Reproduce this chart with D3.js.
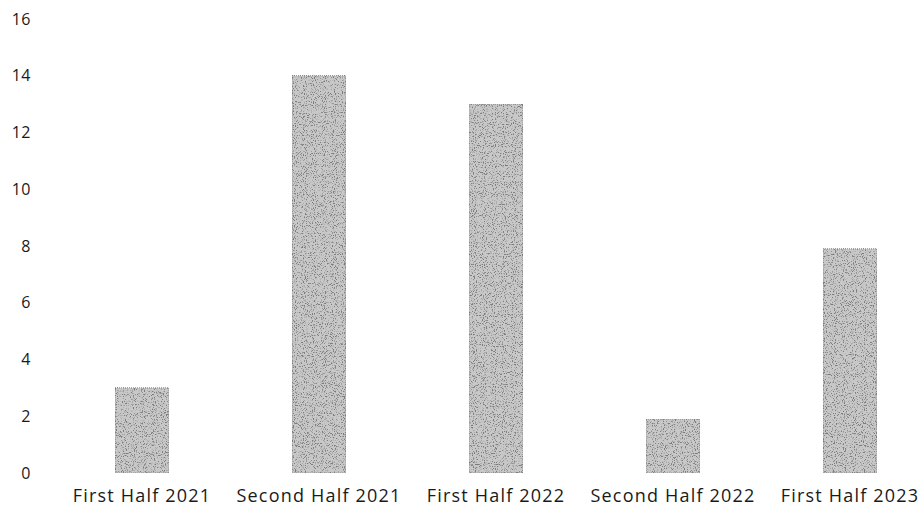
<!DOCTYPE html>
<html>
<head>
<meta charset="utf-8">
<title>Half-year bar chart</title>
<script src="https://d3js.org/d3.v7.min.js"></script>
<style>
  body { margin: 0; background: #fff; }
  text { font-family: "Open Sans", sans-serif; fill: #222; }
</style>
</head>
<body>
<div id="chart"></div>
<script>
// data
var periods = ["First Half 2021", "Second Half 2021", "First Half 2022", "Second Half 2022", "First Half 2023"];
var counts = [3, 14, 13, 1.9, 7.9];
var yTicks = [0, 2, 4, 6, 8, 10, 12, 14, 16];

var width = 921, height = 516;

var svg = d3.select("#chart")
  .append("svg")
  .attr("width", width)
  .attr("height", height);

// grainy grey fill like the scanned original
var defs = svg.append("defs");
var filt = defs.append("filter").attr("id", "grain")
  .attr("x", 0).attr("y", 0).attr("width", 1).attr("height", 1);
filt.append("feTurbulence")
  .attr("type", "fractalNoise")
  .attr("baseFrequency", 0.9)
  .attr("numOctaves", 2)
  .attr("seed", 3)
  .attr("result", "noise");
filt.append("feColorMatrix")
  .attr("in", "noise")
  .attr("type", "matrix")
  .attr("values", "0 0 0 0 0.2  0 0 0 0 0.2  0 0 0 0 0.2  0 0 0 -6 2.8")
  .attr("result", "dots");
filt.append("feComposite")
  .attr("in", "dots")
  .attr("in2", "SourceGraphic")
  .attr("operator", "in")
  .attr("result", "dotsIn");
filt.append("feMerge").selectAll("feMergeNode")
  .data(["SourceGraphic", "dotsIn"])
  .enter().append("feMergeNode").attr("in", function(d) { return d; });

var x = d3.scaleBand()
  .domain(periods)
  .range([53.5, 938.5])
  .paddingInner(0.695)
  .paddingOuter(0.3475);

var y = d3.scaleLinear()
  .domain([0, 16])
  .range([473, 19]);

// y axis labels only, no line
var yAxis = svg.append("g")
  .attr("transform", "translate(31,0)")
  .call(d3.axisLeft(y).tickValues(yTicks).tickSize(0).tickPadding(0));
yAxis.select(".domain").remove();
yAxis.selectAll("text")
  .style("font-family", "Open Sans, sans-serif")
  .style("font-size", "16px")
  .style("letter-spacing", "0.5px")
  .style("fill", "#1a1a1a");

var xAxis = svg.append("g")
  .attr("transform", "translate(0,489)")
  .call(d3.axisBottom(x).tickSize(0).tickPadding(0));
xAxis.select(".domain").remove();
xAxis.selectAll("text")
  .style("font-family", "Open Sans, sans-serif")
  .style("font-size", "18px")
  .style("letter-spacing", "1.2px")
  .style("fill", "#1a1a1a");

svg.selectAll(".bar")
  .data(periods)
  .enter()
  .append("rect")
  .attr("class", "bar")
  .attr("x", function(d) { return x(d); })
  .attr("y", function(d, i) { return y(counts[i]); })
  .attr("width", x.bandwidth())
  .attr("height", function(d, i) { return y(0) - y(counts[i]); })
  .attr("fill", "#c8c8c8")
  .attr("stroke", "#808080")
  .attr("stroke-width", 1)
  .attr("stroke-dasharray", "1,1")
  .attr("filter", "url(#grain)");
</script>
</body>
</html>
